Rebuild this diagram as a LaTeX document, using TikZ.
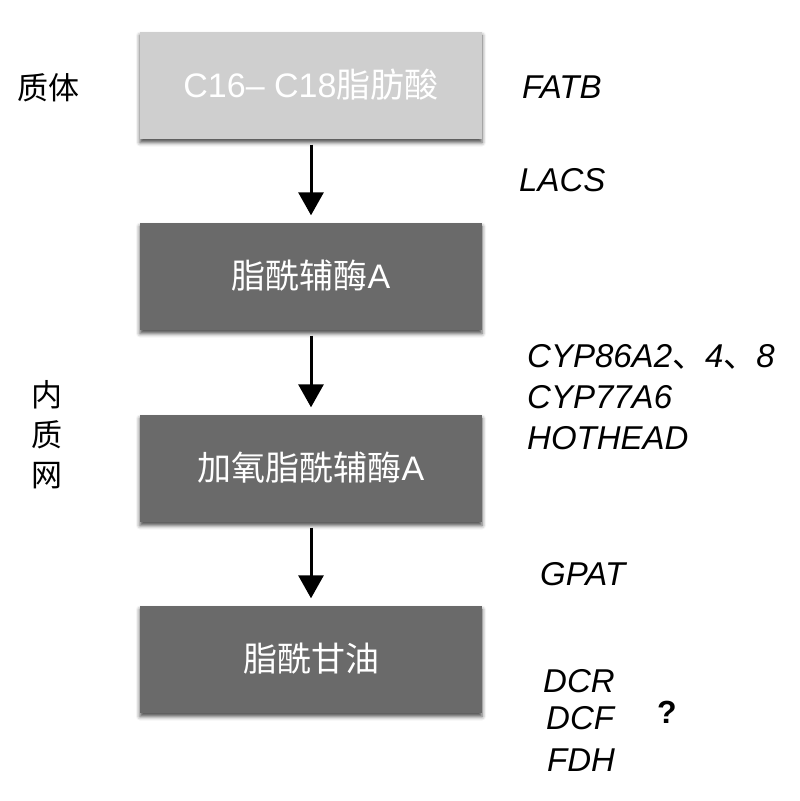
\documentclass[tikz,border=0pt]{standalone}
\usepackage{fontspec}
\setmainfont{Liberation Sans}
\newfontfamily\cjk{Noto Sans CJK SC}
\usetikzlibrary{arrows.meta,shadows.blur}
\definecolor{boxlight}{HTML}{CFCFCF}
\definecolor{boxdark}{HTML}{6A6A6A}
\begin{document}
\begin{tikzpicture}[x=1pt,y=-1pt,
  stepbox/.style={minimum width=342pt,minimum height=107pt,inner sep=0pt,text=white,
    font=\fontsize{34}{40}\selectfont,
    blur shadow={shadow xshift=0pt,shadow yshift=-4pt,shadow blur radius=4pt,shadow opacity=70}},
  gene/.style={anchor=west,inner sep=0pt,font=\fontsize{33}{40}\selectfont\itshape},
  loc/.style={inner sep=0pt,font=\fontsize{31}{40}\selectfont\cjk,align=center},
  flow/.style={line width=3pt,-{Triangle[width=25pt,length=23pt]},shorten <=6pt,shorten >=7pt}]
\useasboundingbox (0,0) rectangle (800,801);
\node[stepbox,fill=boxlight] (b1) at (311,85) {C16– C18{\cjk 脂肪酸}};
\node[stepbox,fill=boxdark] (b2) at (311,276) {{\cjk 脂酰辅酶}A};
\node[stepbox,fill=boxdark] (b3) at (311,468) {{\cjk 加氧脂酰辅酶}A};
\node[stepbox,fill=boxdark] (b4) at (311,659) {{\cjk 脂酰甘油}};
\draw[flow] (b1.south) -- (b2.north);
\draw[flow] (b2.south) -- (b3.north);
\draw[flow] (b3.south) -- (b4.north);
\node[loc] (l1) at (48,88) {质体};
\node[loc] (l2) at (47,435) {内\\质\\网};
\node[gene] (g1) at (522,87) {FATB};
\node[gene] (g2) at (519,180) {LACS};
\node[gene] (g3) at (527,357) {CYP86A2{\cjk\upshape 、}4{\cjk\upshape 、}8};
\node[gene] (g4) at (527,397) {CYP77A6};
\node[gene] (g5) at (527,438) {HOTHEAD};
\node[gene] (g6) at (540,574) {GPAT};
\node[gene] (g7) at (543,681) {DCR};
\node[gene] (g8) at (546,718) {DCF};
\node[gene] (g9) at (547,760) {FDH};
\node[inner sep=0pt,font=\fontsize{32}{38}\selectfont\bfseries] (q) at (667,712) {?};
\end{tikzpicture}
\end{document}
